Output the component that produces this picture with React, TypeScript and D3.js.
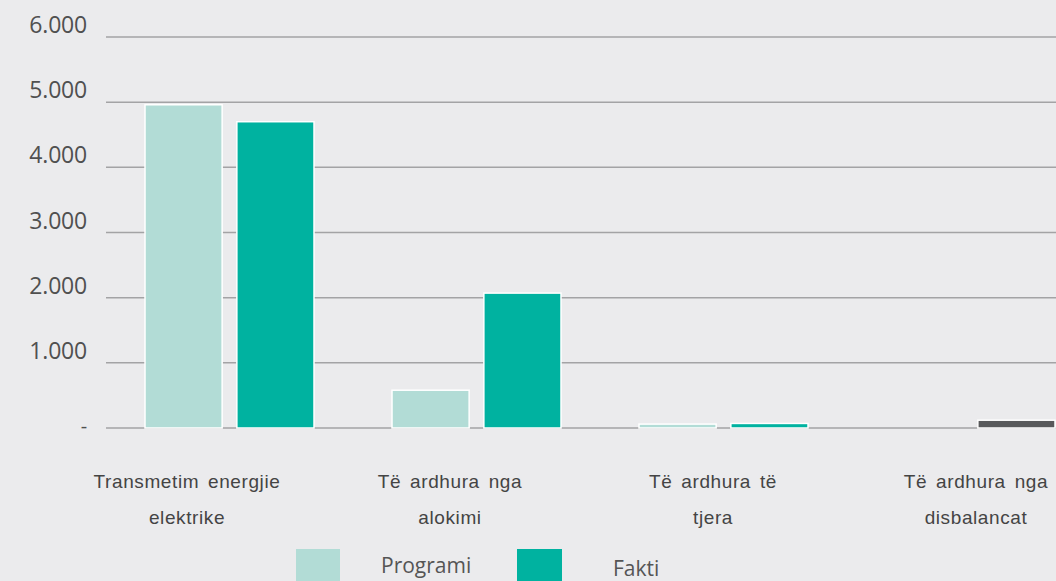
import React from "react";
import * as d3 from "d3";

const categories = [
  ["Transmetim energjie", "elektrike"],
  ["Të ardhura nga", "alokimi"],
  ["Të ardhura të", "tjera"],
  ["Të ardhura nga", "disbalancat"],
];
const seriesNames = ["Programi", "Fakti"];
const programi = [4960, 580, 60, 0];
const fakti = [4700, 2070, 70, 120];
const yTicks = [0, 1000, 2000, 3000, 4000, 5000, 6000];
const yTickLabels = ["-", "1.000", "2.000", "3.000", "4.000", "5.000", "6.000"];

const W = 1056;
const H = 581;
const BG = "#ebebed";
const COLORS = ["#b2dcd6", "#00b2a0"];
const DARK = "#58595b";

export default function App() {
  const catKeys = categories.map((c, i) => String(i));
  const x0 = d3.scaleBand().domain(catKeys).range([106, 1094]).padding(0);
  const x1 = d3.scaleBand().domain(seriesNames).range([39, 208]).paddingInner(0.16);
  const y = d3.scaleLinear().domain([0, 6000]).range([428, 37]);
  const xl = d3.scalePoint().domain(catKeys).range([187, 976]);
  const series = [programi, fakti];

  return (
    <svg width={W} height={H} style={{ position: "absolute", left: 0, top: 0, background: BG }}>
      <rect x={0} y={0} width={W} height={H} fill={BG} />
      {yTicks.map((t, i) => (
        <g key={t}>
          <line x1={106} x2={W} y1={y(t)} y2={y(t)} stroke="#a3a3a5" strokeWidth={1.5} />
          <text
            x={87}
            y={t === 0 ? y(t) : y(t) - 10}
            textAnchor="end"
            dominantBaseline="middle"
            fontFamily="'Open Sans', sans-serif"
            fontSize={t === 0 ? 20 : 23}
            fill="#505050"
            letterSpacing={-0.2}
          >
            {yTickLabels[i]}
          </text>
        </g>
      ))}
      {catKeys.map((c, ci) => (
        <g key={c} transform={`translate(${x0(c)},0)`}>
          {seriesNames.map((s, si) => {
            const v = series[si][ci];
            if (v <= 0) return null;
            const fill = ci === 3 && si === 1 ? DARK : COLORS[si];
            return (
              <rect
                key={s}
                x={x1(s)}
                y={y(v)}
                width={x1.bandwidth()}
                height={y(0) - y(v)}
                fill={fill}
                stroke="#ffffff"
                strokeWidth={1.5}
              />
            );
          })}
        </g>
      ))}
      {catKeys.map((c, ci) => (
        <text
          key={c}
          x={xl(c)}
          textAnchor="middle"
          fontFamily="'Liberation Sans', Arial, sans-serif"
          fontSize={19}
          fill="#444"
          letterSpacing={0.6}
          wordSpacing={3}
        >
          <tspan x={xl(c)} y={488}>{categories[ci][0]}</tspan>
          <tspan x={xl(c)} y={524}>{categories[ci][1]}</tspan>
        </text>
      ))}
      <rect x={296} y={549} width={44} height={40} fill={COLORS[0]} />
      <text x={381} y={573} fontFamily="'Open Sans', sans-serif" fontSize={21} fill="#555">
        {seriesNames[0]}
      </text>
      <rect x={517} y={549} width={45} height={40} fill={COLORS[1]} />
      <text x={613} y={576} fontFamily="'Open Sans', sans-serif" fontSize={21} fill="#555">
        {seriesNames[1]}
      </text>
    </svg>
  );
}
